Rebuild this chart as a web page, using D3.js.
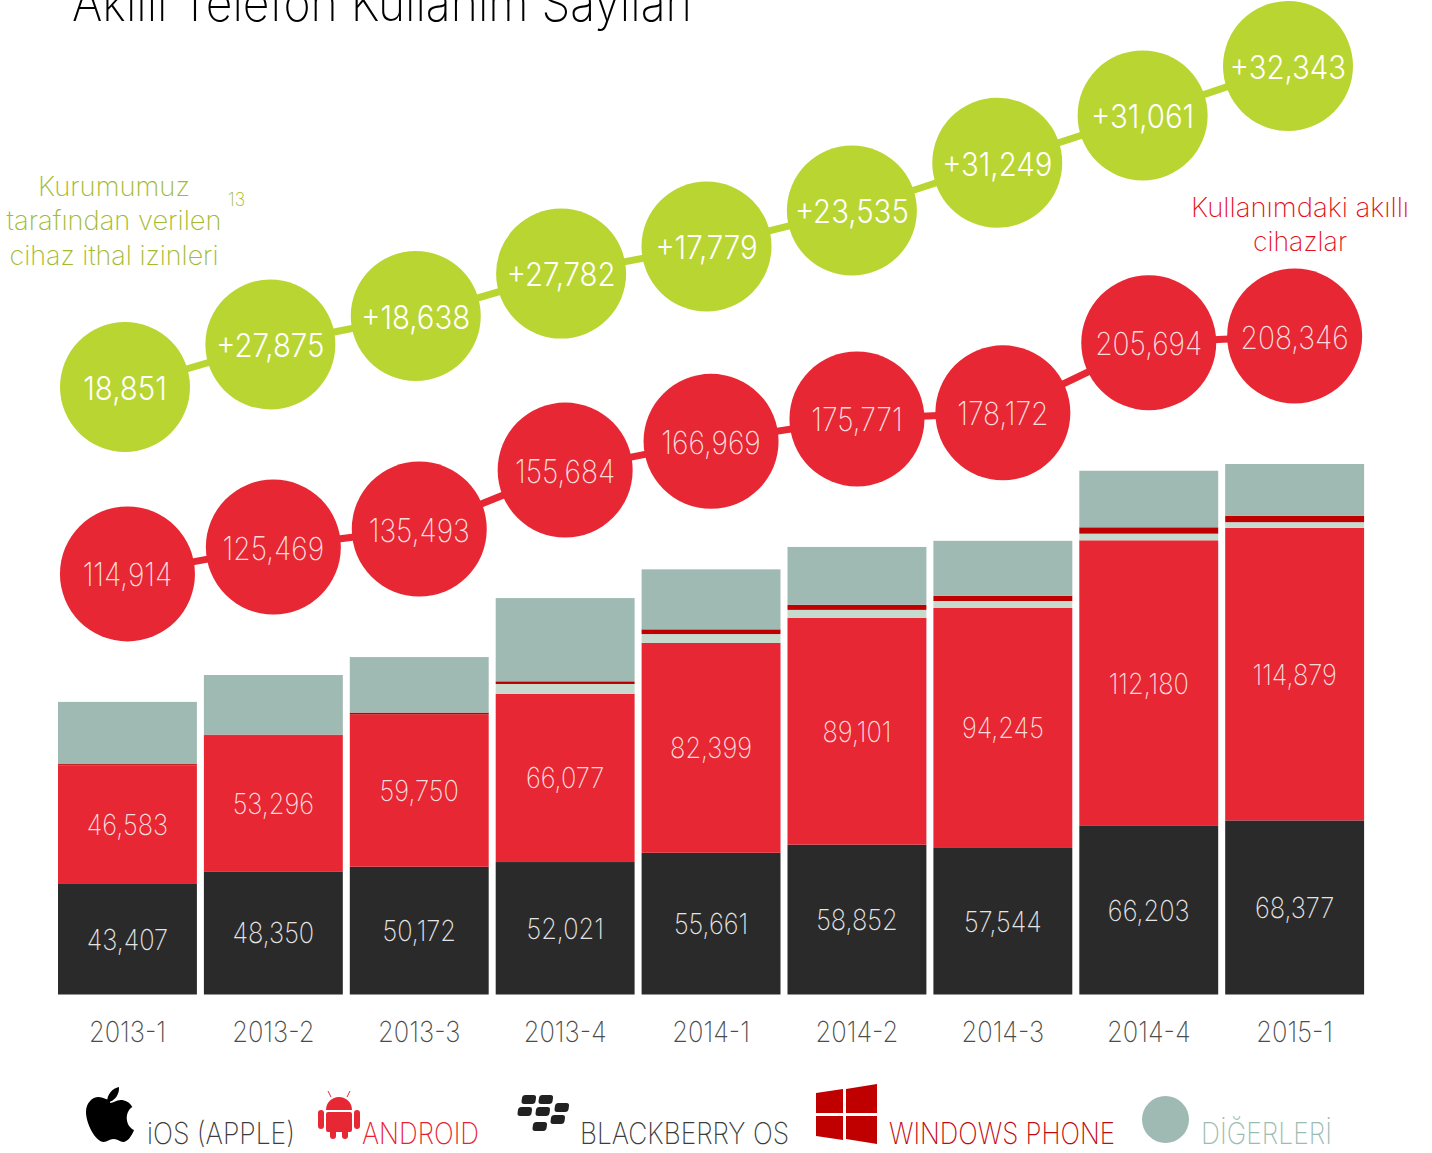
<!DOCTYPE html>
<html><head><meta charset="utf-8">
<script src="https://cdnjs.cloudflare.com/ajax/libs/d3/7.8.5/d3.min.js"></script>
<style>
html,body{margin:0;padding:0;background:#fff;overflow:hidden}
svg{display:block}
text{font-family:Inter,Lato,"Noto Sans",sans-serif;font-weight:200}
</style></head><body>
<svg id="c" width="1432" height="1153"></svg>
<script>
const quarters=["2013-1","2013-2","2013-3","2013-4","2014-1","2014-2","2014-3","2014-4","2015-1"];
const ios=[43407,48350,50172,52021,55661,58852,57544,66203,68377];
const android=[46583,53296,59750,66077,82399,89101,94245,112180,114879];
const blackberry=[0,0,0,3850,3500,3100,2750,2600,2250];
const windowsPhone=[500,400,800,1050,1850,2000,2050,2500,2450];
const others=[24424,23423,21800,32686,23559,22718,21583,22211,20390];
const totals=[114914,125469,135493,155684,166969,175771,178172,205694,208346];
const imports=[18851,27875,18638,27782,17779,23535,31249,31061,32343];
const seriesNames=["iOS (APPLE)","ANDROID","BLACKBERRY OS","WINDOWS PHONE","DİĞERLERİ"];
const seriesColors=["#2a2a2a","#e72733","#c6dace","#c00000","#9fb9b3"];
const fmt=d3.format(",");
const svg=d3.select("#c");

const x=d3.scaleBand().domain(quarters).range([54.5,1367.6]).paddingInner(7/145.9).paddingOuter(3.5/145.9);
const y=d3.scaleLinear().domain([0,208346]).range([994.5,464]);
const yRed=d3.scaleLinear().domain([0,208346]).range([866.5,336]);
const cum=Array.from(d3.cumsum(imports));
const yGreen=d3.scaleLinear().domain([cum[0],cum[8]]).range([387,66]);
const xGreen=d3.scalePoint().domain(quarters).range([125,1288]);

function squeeze(sel,f){sel.each(function(){this.setAttribute("textLength",this.getComputedTextLength()*f);this.setAttribute("lengthAdjust","spacingAndGlyphs");});}

// bars
const rows=quarters.map((q,i)=>({q,ios:ios[i],android:android[i],blackberry:blackberry[i],wp:windowsPhone[i],others:others[i]}));
const keys=["ios","android","blackberry","wp","others"];
const stack=d3.stack().keys(keys)(rows);
const stackTops=stack[4].map(d=>d[1]);
svg.append("g").selectAll("g").data(stack).join("g").attr("fill",(d,i)=>seriesColors[i])
 .selectAll("rect").data(d=>d).join("rect")
 .attr("x",d=>x(d.data.q)).attr("width",x.bandwidth())
 .attr("y",d=>y(d[1])).attr("height",d=>y(d[0])-y(d[1]));

// bar labels
const barLab=svg.append("g").attr("text-anchor","middle").attr("font-size",29);
stack.slice(0,2).forEach((s,si)=>{
 barLab.append("g").attr("fill",si?"#fbdcdd":"#e4e4e4").selectAll("text").data(s).join("text")
  .attr("x",d=>x(d.data.q)+x.bandwidth()/2).attr("y",d=>(y(d[0])+y(d[1]))/2).attr("dy",".36em")
  .text(d=>fmt(d[1]-d[0])).call(squeeze,0.875);
});

// red line + circles
const line=(X,Y,vals)=>d3.line().x((d,i)=>X(quarters[i])).y(d=>Y(d))(vals);
const xc=q=>x(q)+x.bandwidth()/2;
svg.append("path").attr("d",line(xc,yRed,stackTops)).attr("fill","none").attr("stroke","#e72733").attr("stroke-width",7);
svg.append("g").attr("fill","#e72733").selectAll("circle").data(stackTops).join("circle")
 .attr("cx",(d,i)=>xc(quarters[i])).attr("cy",d=>yRed(d)).attr("r",67.5);
svg.append("g").attr("text-anchor","middle").attr("font-size",32).attr("fill","#fbdcdd").selectAll("text").data(totals).join("text")
 .attr("x",(d,i)=>xc(quarters[i])).attr("y",(d,i)=>yRed(stackTops[i])+1).attr("dy",".36em").text(fmt).call(squeeze,0.88);

// green line + circles
svg.append("path").attr("d",line(xGreen,yGreen,cum)).attr("fill","none").attr("stroke","#b9d532").attr("stroke-width",7);
svg.append("g").attr("fill","#b9d532").selectAll("circle").data(cum).join("circle")
 .attr("cx",(d,i)=>xGreen(quarters[i])).attr("cy",d=>yGreen(d)).attr("r",65);
svg.append("g").attr("text-anchor","middle").attr("font-size",33).attr("fill","#fff").selectAll("text").data(imports).join("text")
 .attr("x",(d,i)=>xGreen(quarters[i])).attr("y",(d,i)=>yGreen(cum[i])+1).attr("dy",".36em").text((d,i)=>(i?"+":"")+fmt(d)).style("font-weight",300).call(squeeze,0.89);

// x axis
const ax=svg.append("g").attr("transform","translate(0,1021)").call(d3.axisBottom(x).tickSize(0).tickPadding(0));
ax.select(".domain").remove();
ax.selectAll("text").attr("y",0).attr("dy",".73em").style("font-family","Inter").style("font-weight",200).attr("font-size",29).attr("fill","#4c4c4c").call(squeeze,0.88);

// title & notes
svg.append("text").attr("x",72).attr("y",21).attr("font-size",50).attr("fill","#000").style("font-weight",200).text("Akıllı Telefon Kullanım Sayıları").attr("textLength",620).attr("lengthAdjust","spacingAndGlyphs");
const noteLines=[["Kurumumuz",114,196,152],["tarafından verilen",114,230,215],["cihaz ithal izinleri",114,265,209]];
const gnote=svg.append("g").attr("fill","#a3ba2e").attr("font-size",27).attr("text-anchor","middle");
noteLines.forEach(([t,a,b,w])=>gnote.append("text").attr("x",a).attr("y",b).attr("textLength",w).attr("lengthAdjust","spacingAndGlyphs").text(t));
svg.append("text").attr("x",228).attr("y",206).attr("font-size",19).attr("fill","#a3ba2e").attr("textLength",17).attr("lengthAdjust","spacingAndGlyphs").text("13");
const rnoteLines=[["Kullanımdaki akıllı",1300,217,218],["cihazlar",1300,251,94]];
const rnote=svg.append("g").attr("fill","#e4101c").attr("font-size",27).attr("text-anchor","middle");
rnoteLines.forEach(([t,a,b,w])=>rnote.append("text").attr("x",a).attr("y",b).attr("textLength",w).attr("lengthAdjust","spacingAndGlyphs").text(t));

// legend
const legendX=[147,362,580,889,1201], legendW=[148,117,209,226,131], legendC=["#3c3c3c","#e8222e","#3c3c3c","#c4080f","#9cbcb2"];
const leg=svg.append("g").attr("font-size",30);
seriesNames.forEach((n,i)=>leg.append("text").attr("x",legendX[i]).attr("y",1144).attr("fill",legendC[i]).attr("textLength",legendW[i]).attr("lengthAdjust","spacingAndGlyphs").text(n));

// legend icons
svg.append("path").attr("fill","#000").attr("transform","translate(86,0) scale(.89,1) translate(-81,0)").attr("d","M118 1087c1 7-5 15-13 15 -1-7 6-14 13-15z M108 1103c4 0 7-3 12-3 5 0 10 2 13 7 -9 5-8 19 2 23 -3 7-8 12-12 12 -4 0-6-3-11-3 -5 0-7 3-11 3 -9 0-20-18-20-30 0-9 7-15 14-15 5 0 9 3 13 3z");
const and=svg.append("g").attr("fill","#e72733");
and.append("path").attr("d","M326 1110a13 13 0 0 1 26 0z");
and.append("rect").attr("x",326).attr("y",1112).attr("width",26).attr("height",20).attr("rx",2);
and.append("rect").attr("x",318).attr("y",1110).attr("width",6).attr("height",19).attr("rx",3);
and.append("rect").attr("x",354).attr("y",1110).attr("width",6).attr("height",19).attr("rx",3);
and.append("rect").attr("x",330).attr("y",1128).attr("width",6).attr("height",11).attr("rx",3);
and.append("rect").attr("x",342).attr("y",1128).attr("width",6).attr("height",11).attr("rx",3);
and.append("path").attr("d","M331 1097l-3-6M347 1097l3-6").attr("stroke","#e72733").attr("stroke-width",1);
svg.append("g").attr("fill","#222").selectAll("rect").data([[523,1095],[540,1095],[519,1107],[537,1107],[556,1103],[552,1115],[534,1122]]).join("rect")
 .attr("x",d=>d[0]).attr("y",d=>d[1]).attr("width",14).attr("height",9).attr("rx",3).attr("transform",d=>`skewX(-8) translate(${d[1]*0.14},0)`);
svg.append("path").attr("fill","#c00000").attr("d","M816 1093l27-4v24h-27z M846 1089l31-5v29h-31z M816 1116h27v24l-27-4z M846 1116h31v28l-31-5z");
svg.append("ellipse").attr("cx",1165.5).attr("cy",1119.5).attr("rx",23.5).attr("ry",23.5).attr("fill","#9fb9b3");
</script></body></html>
